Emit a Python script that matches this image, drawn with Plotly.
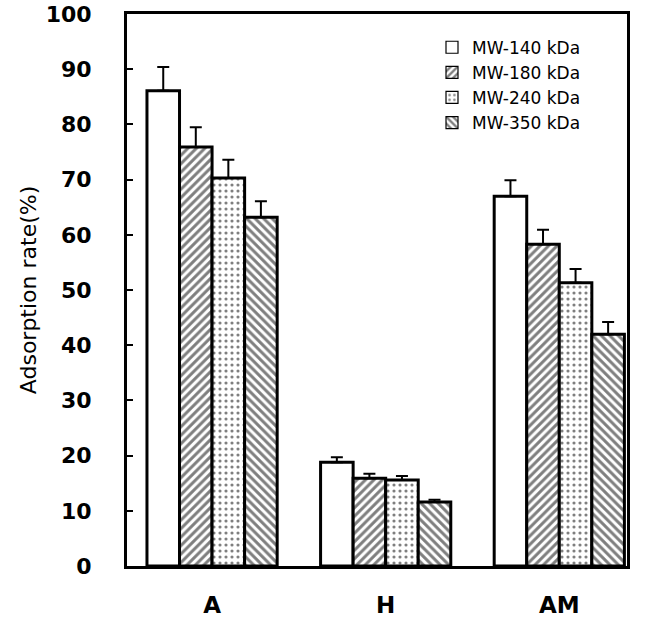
import plotly.graph_objects as go

# Adsorption rate by sample type and chitosan molecular weight
groups = ["A", "H", "AM"]
series_names = ["MW-140 kDa", "MW-180 kDa", "MW-240 kDa", "MW-350 kDa"]
rate_140 = [86.1, 18.8, 67.0]
rate_180 = [75.9, 15.9, 58.3]
rate_240 = [70.3, 15.6, 51.3]
rate_350 = [63.2, 11.6, 42.0]
err_140 = [4.3, 0.9, 2.9]
err_180 = [3.6, 0.8, 2.6]
err_240 = [3.3, 0.7, 2.5]
err_350 = [2.9, 0.4, 2.2]

values = [rate_140, rate_180, rate_240, rate_350]
errors = [err_140, err_180, err_240, err_350]
patterns = ["", "/", ".", "\\"]
pattern_sizes = [8, 6, 6, 6]
pattern_solidity = [0.3, 0.5, 0.22, 0.5]

FONT = "DejaVu Sans, Verdana, sans-serif"

fig = go.Figure()
for i, (name, vals, errs, shape, psize, psol) in enumerate(zip(
        series_names, values, errors, patterns, pattern_sizes, pattern_solidity)):
    pattern = dict(shape=shape, fgcolor="black", bgcolor="white",
                   size=psize, solidity=psol, fillmode="overlay")
    # plotted bars with thick outlines and one-sided error bars
    fig.add_trace(go.Bar(
        x=groups, y=vals, name=name, offsetgroup=str(i), showlegend=False,
        marker=dict(color="white", line=dict(color="black", width=3),
                    pattern=pattern),
        error_y=dict(type="data", symmetric=False, array=errs,
                     arrayminus=[0] * len(errs), color="black",
                     thickness=2, width=6),
    ))
    # legend entry with a thin-outlined swatch
    fig.add_trace(go.Bar(
        x=groups, y=[None] * len(groups), name=name, offsetgroup=str(i),
        showlegend=True,
        marker=dict(color="white", line=dict(color="black", width=1.2),
                    pattern=pattern),
    ))

fig.update_layout(
    width=650, height=623,
    margin=dict(l=127, r=23, t=14, b=57),
    paper_bgcolor="white", plot_bgcolor="white",
    barmode="group", bargap=0.25, bargroupgap=0,
    font=dict(family=FONT, color="black"),
    legend=dict(x=0.61, y=0.871, xanchor="left", yanchor="middle",
                bgcolor="rgba(0,0,0,0)", font=dict(size=17, family=FONT),
                tracegroupgap=0, itemwidth=30),
)
fig.update_xaxes(
    range=[-0.49, 2.39], automargin=False,
    showline=True, linecolor="black", linewidth=3, mirror=True,
    ticks="", showgrid=False, ticklabelstandoff=16,
    tickfont=dict(size=23, family=FONT, weight="bold"),
)
fig.update_yaxes(
    range=[0, 100], dtick=10, automargin=False,
    showline=True, linecolor="black", linewidth=3, mirror=True,
    ticks="inside", ticklen=6, tickwidth=2, tickcolor="black",
    showgrid=False, zeroline=False, ticklabelstandoff=28,
    tickfont=dict(size=22, family=FONT, weight="bold"),
    title=dict(text="Adsorption rate(%)", font=dict(size=22, family=FONT),
               standoff=3),
)

fig.write_html("out.html")
